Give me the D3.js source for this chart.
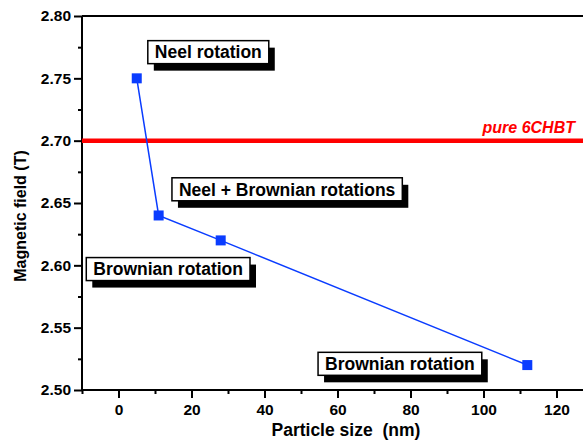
<!DOCTYPE html>
<html>
<head>
<meta charset="utf-8">
<script src="https://d3js.org/d3.v7.min.js"></script>
<style>
  body { margin: 0; background: #fff; }
  text { font-family: Arial, "Liberation Sans", sans-serif; }
</style>
</head>
<body>
<svg id="chart" width="583" height="445"></svg>
<script>
// data
var sizes = [5, 11, 28, 112];
var fields = [2.75, 2.64, 2.62, 2.52];
var pureField = 2.70;
var pureLabel = "pure 6CHBT";
var xTicks = [0, 20, 40, 60, 80, 100, 120];
var yTicks = [2.50, 2.55, 2.60, 2.65, 2.70, 2.75, 2.80];
var labelTexts = ["Neel rotation", "Neel + Brownian rotations", "Brownian rotation", "Brownian rotation"];
var labelX = [24.6, 46.2, 13.6, 77.1];
var labelY = [2.771, 2.661, 2.597, 2.521];

var svg = d3.select("#chart");
var plotLeft = 82, plotTop = 16, plotBottom = 390, plotRight = 583;

var x = d3.scaleLinear().domain([-10, 130]).range([plotLeft, plotLeft + 140 * 3.65]);
var y = d3.scaleLinear().domain([2.5, 2.8]).range([plotBottom, plotTop]);

// minor ticks
var xMinor = d3.range(-10, 131, 10).filter(d => xTicks.indexOf(d) < 0);
var yMinor = d3.range(2.525, 2.8, 0.05);

var xAxis = svg.append("g").attr("transform", "translate(0," + plotBottom + ")")
  .call(d3.axisBottom(x).tickValues(xTicks).tickFormat(d3.format("d")).tickSize(8).tickPadding(6));
svg.append("g").attr("class", "minor").attr("transform", "translate(0," + plotBottom + ")")
  .call(d3.axisBottom(x).tickValues(xMinor).tickSize(4).tickFormat(""));

var yAxis = svg.append("g").attr("transform", "translate(" + plotLeft + ",0)")
  .call(d3.axisLeft(y).tickValues(yTicks).tickFormat(d3.format(".2f")).tickSize(8).tickPadding(3));
svg.append("g").attr("class", "minor").attr("transform", "translate(" + plotLeft + ",0)")
  .call(d3.axisLeft(y).tickValues(yMinor).tickSize(4).tickFormat(""));

svg.selectAll(".minor .domain").remove();
svg.selectAll(".tick line").attr("stroke-width", 2);
svg.selectAll(".tick text").attr("font-size", 15.5).attr("font-weight", "bold").attr("fill", "#000");

// plain axis lines
xAxis.select(".domain").attr("d", "M" + plotLeft + ",0H" + plotRight).attr("stroke-width", 2);
yAxis.select(".domain").attr("d", "M0," + plotTop + "V" + plotBottom).attr("stroke-width", 2);

// top frame line
svg.append("line").attr("x1", plotLeft).attr("x2", plotRight).attr("y1", plotTop).attr("y2", plotTop)
  .attr("stroke", "#000").attr("stroke-width", 2);

// pure 6CHBT reference line
svg.append("line").attr("x1", plotLeft).attr("x2", plotRight)
  .attr("y1", y(pureField)).attr("y2", y(pureField))
  .attr("stroke", "#ff0000").attr("stroke-width", 4.5);
svg.append("text").attr("x", 575).attr("y", y(pureField) - 8)
  .attr("text-anchor", "end").attr("font-size", 16).attr("font-weight", "bold")
  .attr("font-style", "italic").attr("fill", "#ff0000").text(pureLabel);

// data line + markers
var pts = sizes.map((s, i) => [s, fields[i]]);
svg.append("path").datum(pts)
  .attr("fill", "none").attr("stroke", "#0a3cff").attr("stroke-width", 1.5)
  .attr("d", d3.line().x(d => x(d[0])).y(d => y(d[1])));
svg.selectAll("rect.pt").data(pts).enter().append("rect").attr("class", "pt")
  .attr("x", d => x(d[0]) - 5).attr("y", d => y(d[1]) - 5)
  .attr("width", 10).attr("height", 10).attr("fill", "#0a3cff");

// annotation boxes with drop shadows
labelTexts.forEach(function (t, i) {
  var g = svg.append("g").attr("transform", "translate(" + x(labelX[i]) + "," + y(labelY[i]) + ")");
  var shadow = g.append("rect").attr("fill", "#000");
  var box = g.append("rect").attr("fill", "#fff").attr("stroke", "#000").attr("stroke-width", 1.5);
  var txt = g.append("text").attr("text-anchor", "middle").attr("dy", "0.36em")
    .attr("font-size", 17.5).attr("font-weight", "bold").text(t);
  var w = txt.node().getComputedTextLength() + 14, h = 23;
  box.attr("x", -w / 2).attr("y", -h / 2).attr("width", w).attr("height", h);
  shadow.attr("x", -w / 2 + 6).attr("y", -h / 2 + 7).attr("width", w).attr("height", h);
});

// axis titles
svg.append("text").attr("x", x(62.3)).attr("y", 436).attr("text-anchor", "middle")
  .attr("font-size", 17.5).attr("font-weight", "bold")
  .text("Particle size\u00a0 (nm)");
svg.append("text").attr("transform", "translate(26,216) rotate(-90)")
  .attr("text-anchor", "middle").attr("font-size", 16).attr("font-weight", "bold")
  .text("Magnetic field (T)");
</script>
</body>
</html>
